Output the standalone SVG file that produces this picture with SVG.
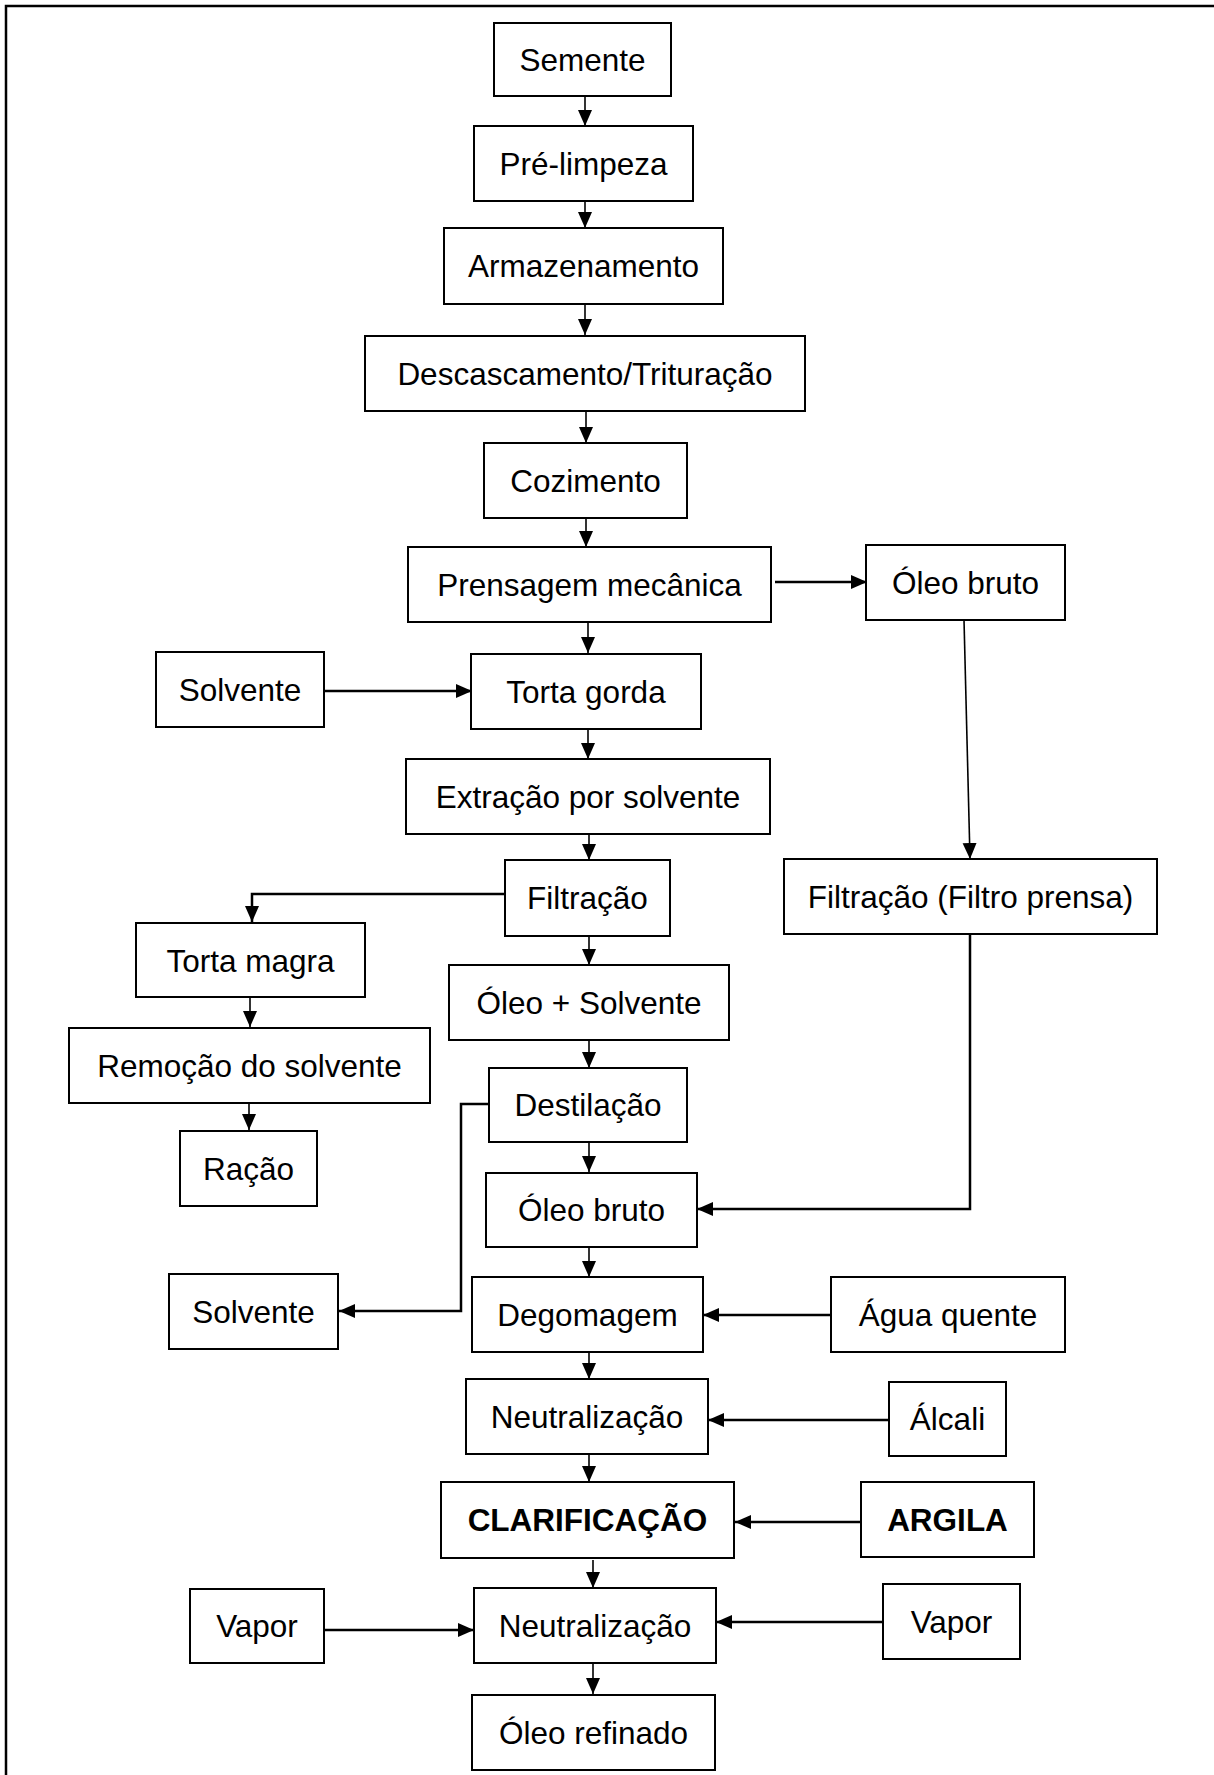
<svg xmlns="http://www.w3.org/2000/svg" width="1214" height="1775" viewBox="0 0 1214 1775">
<style>
.b{fill:#fff;stroke:#000;stroke-width:2}
.t{font-family:"Liberation Sans",Arial,Helvetica,sans-serif;font-size:31.5px;fill:#000;text-anchor:middle}
.tb{font-weight:bold}
.c{fill:none;stroke:#000;stroke-width:1.6}
.cw{stroke-width:2.5}
</style>
<defs>
<marker id="ah" markerUnits="userSpaceOnUse" markerWidth="16" markerHeight="16" viewBox="0 0 16 16" refX="16" refY="8" orient="auto">
<path d="M0,1 L16,8 L0,15 z" fill="#000"/>
</marker>
</defs>
<rect width="1214" height="1775" fill="#fff"/>
<path d="M6,1775 V6 H1214" fill="none" stroke="#000" stroke-width="2.5"/>
<g id="connectors">
<path class="c" d="M585,96 V126" marker-end="url(#ah)"/>
<path class="c" d="M585,201 V228" marker-end="url(#ah)"/>
<path class="c" d="M585,304 V335" marker-end="url(#ah)"/>
<path class="c" d="M586,411 V443" marker-end="url(#ah)"/>
<path class="c" d="M586,518 V547" marker-end="url(#ah)"/>
<path class="c cw" d="M775,582 H867" marker-end="url(#ah)"/>
<path class="c" d="M588,622 V653" marker-end="url(#ah)"/>
<path class="c cw" d="M325,691 H472" marker-end="url(#ah)"/>
<path class="c" d="M588,729 V759" marker-end="url(#ah)"/>
<path class="c" d="M589,834 V860" marker-end="url(#ah)"/>
<path class="c" d="M964,620 L970,859" marker-end="url(#ah)"/>
<path class="c cw" d="M505,894 H252 V922" marker-end="url(#ah)"/>
<path class="c" d="M589,936 V965" marker-end="url(#ah)"/>
<path class="c" d="M250,997 V1027" marker-end="url(#ah)"/>
<path class="c" d="M589,1040 V1068" marker-end="url(#ah)"/>
<path class="c" d="M249,1103 V1130" marker-end="url(#ah)"/>
<path class="c" d="M589,1142 V1172" marker-end="url(#ah)"/>
<path class="c cw" d="M489,1104 H461 V1311 H339" marker-end="url(#ah)"/>
<path class="c cw" d="M970,934 V1209 H697" marker-end="url(#ah)"/>
<path class="c" d="M589,1247 V1277" marker-end="url(#ah)"/>
<path class="c cw" d="M831,1315 H703" marker-end="url(#ah)"/>
<path class="c" d="M589,1352 V1379" marker-end="url(#ah)"/>
<path class="c cw" d="M889,1420 H708" marker-end="url(#ah)"/>
<path class="c" d="M589,1454 V1482" marker-end="url(#ah)"/>
<path class="c cw" d="M861,1522 H735" marker-end="url(#ah)"/>
<path class="c" d="M593,1560 V1588" marker-end="url(#ah)"/>
<path class="c cw" d="M325,1630 H474" marker-end="url(#ah)"/>
<path class="c cw" d="M883,1622 H716" marker-end="url(#ah)"/>
<path class="c" d="M593,1663 V1694" marker-end="url(#ah)"/>
</g>
<g id="n-semente"><rect class="b" x="494" y="23" width="177" height="73"/><text class="t" x="582.5" y="71">Semente</text></g>
<g id="n-prelimpeza"><rect class="b" x="474" y="126" width="219" height="75"/><text class="t" x="583.5" y="175">Pré-limpeza</text></g>
<g id="n-armazenamento"><rect class="b" x="444" y="228" width="279" height="76"/><text class="t" x="583.5" y="277">Armazenamento</text></g>
<g id="n-descascamento"><rect class="b" x="365" y="336" width="440" height="75"/><text class="t" x="585" y="385">Descascamento/Trituração</text></g>
<g id="n-cozimento"><rect class="b" x="484" y="443" width="203" height="75"/><text class="t" x="585.5" y="492">Cozimento</text></g>
<g id="n-prensagem"><rect class="b" x="408" y="547" width="363" height="75"/><text class="t" x="589.5" y="596">Prensagem mecânica</text></g>
<g id="n-oleobruto1"><rect class="b" x="866" y="545" width="199" height="75"/><text class="t" x="965.5" y="594">Óleo bruto</text></g>
<g id="n-solvente1"><rect class="b" x="156" y="652" width="168" height="75"/><text class="t" x="240" y="701">Solvente</text></g>
<g id="n-tortagorda"><rect class="b" x="471" y="654" width="230" height="75"/><text class="t" x="586" y="703">Torta gorda</text></g>
<g id="n-extracao"><rect class="b" x="406" y="759" width="364" height="75"/><text class="t" x="588" y="808">Extração por solvente</text></g>
<g id="n-filtracao"><rect class="b" x="505" y="860" width="165" height="76"/><text class="t" x="587.5" y="909">Filtração</text></g>
<g id="n-filtroprensa"><rect class="b" x="784" y="859" width="373" height="75"/><text class="t" x="970.5" y="908">Filtração (Filtro prensa)</text></g>
<g id="n-tortamagra"><rect class="b" x="136" y="923" width="229" height="74"/><text class="t" x="250.5" y="972">Torta magra</text></g>
<g id="n-oleosolvente"><rect class="b" x="449" y="965" width="280" height="75"/><text class="t" x="589" y="1014">Óleo + Solvente</text></g>
<g id="n-remocao"><rect class="b" x="69" y="1028" width="361" height="75"/><text class="t" x="249.5" y="1077">Remoção do solvente</text></g>
<g id="n-destilacao"><rect class="b" x="489" y="1068" width="198" height="74"/><text class="t" x="588" y="1116">Destilação</text></g>
<g id="n-racao"><rect class="b" x="180" y="1131" width="137" height="75"/><text class="t" x="248.5" y="1180">Ração</text></g>
<g id="n-oleobruto2"><rect class="b" x="486" y="1173" width="211" height="74"/><text class="t" x="591.5" y="1221">Óleo bruto</text></g>
<g id="n-solvente2"><rect class="b" x="169" y="1274" width="169" height="75"/><text class="t" x="253.5" y="1323">Solvente</text></g>
<g id="n-degomagem"><rect class="b" x="472" y="1277" width="231" height="75"/><text class="t" x="587.5" y="1326">Degomagem</text></g>
<g id="n-aguaquente"><rect class="b" x="831" y="1277" width="234" height="75"/><text class="t" x="948" y="1326">Água quente</text></g>
<g id="n-neutralizacao1"><rect class="b" x="466" y="1379" width="242" height="75"/><text class="t" x="587" y="1428">Neutralização</text></g>
<g id="n-alcali"><rect class="b" x="889" y="1382" width="117" height="74"/><text class="t" x="947.5" y="1430">Álcali</text></g>
<g id="n-clarificacao"><rect class="b" x="441" y="1482" width="293" height="76"/><text class="t tb" x="587.5" y="1531">CLARIFICAÇÃO</text></g>
<g id="n-argila"><rect class="b" x="861" y="1482" width="173" height="75"/><text class="t tb" x="947.5" y="1531">ARGILA</text></g>
<g id="n-vapor1"><rect class="b" x="190" y="1589" width="134" height="74"/><text class="t" x="257" y="1637">Vapor</text></g>
<g id="n-neutralizacao2"><rect class="b" x="474" y="1588" width="242" height="75"/><text class="t" x="595" y="1637">Neutralização</text></g>
<g id="n-vapor2"><rect class="b" x="883" y="1584" width="137" height="75"/><text class="t" x="951.5" y="1633">Vapor</text></g>
<g id="n-oleorefinado"><rect class="b" x="472" y="1695" width="243" height="75"/><text class="t" x="593.5" y="1744">Óleo refinado</text></g>
</svg>
